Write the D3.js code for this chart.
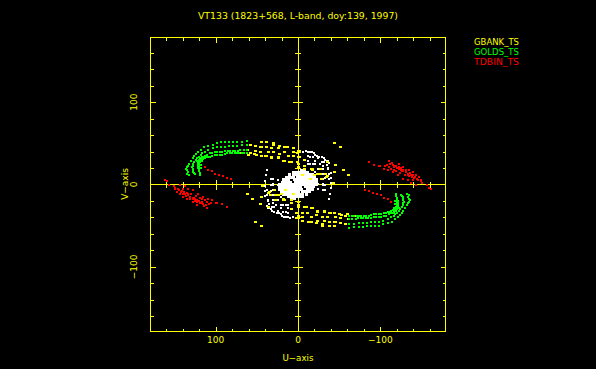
<!DOCTYPE html>
<html><head><meta charset="utf-8">
<script src="https://cdn.jsdelivr.net/npm/d3@7"></script>
<style>html,body{margin:0;padding:0;background:#000;overflow:hidden}svg{display:block}text{font-family:"DejaVu Sans",sans-serif;font-size:9px}</style>
</head><body><svg id="c" width="596" height="369"></svg>
<script>
const titleText = "VT133 (1823+568, L-band, doy:139, 1997)";
const xLabel = "U\u2212axis", yLabel = "V\u2212axis";
const legendNames = ["GBANK_TS","GOLDS_TS","TDBIN_TS"];
const legendColors = ["#ffff00","#00ff00","#ff0000"];
const majorTicks = [-100,0,100];
const minorTicks = [-160,-140,-120,-80,-60,-40,-20,20,40,60,80,120,140,160];
const greenPoints = [
[62,53],[68,52],[74,52],[79,52],[84,51],[88,51],[93,51],[98,50],[103,48],[109,47],[114,45],[118,42],[121,39],[126,35],[128,32],[132,25],[135,21],[135,17],[135,13],[132,11],[124,37],[130,28],[134,23],[136,19],[134,15],
[62,48],[68,48],[74,47],[79,47],[84,47],[88,46],[93,46],[98,45],[103,44],[109,42],[113,40],[116,38],[120,34],[124,30],[126,27],[128,23],[128,19],[127,15],[125,13],[118,36],[122,32],[127,25],[129,21],[128,17],[126,14],
[62,42],[70,42],[76,41],[82,41],[88,41],[95,40],[101,39],[107,38],[110,36],[115,34],[119,32],[121,27],[121,23],[120,17],[66,42],[73,41],[79,41],[85,41],[92,40],[98,40],[104,38],[113,35],[117,33],[120,30],[121,25],[121,20],
[62,38],[68,38],[74,38],[80,38],[86,38],[92,36],[98,36],[104,35],[109,33],[113,32],[116,29],[119,27],[120,23],[120,19],[120,16],
[65,38],[71,38],[77,38],[83,38],[89,37],[95,36],[101,36],[107,34],[111,33],[115,31],[118,28],[120,25],[120,21],[120,18],[122,29],[118,31],[118,20],[118,24],[119,14],[119,12]
];
const yellowPoints = [
[52,47],[44,51],[38,51],[30,50],[23,47],[16,45],[6,44],
[45,45],[38,46],[32,44],[24,44],[16,39],[6,39],[1,38],
[58,38],[53,37],[50,36],[44,35],[38,35],[32,32],[24,32],[16,29],[10,27],[1,27],
[58,48],[44,46],[30,48],[22,47],[13,45],[61,42],[52,41],[46,39],[36,40],[30,39],[22,37],[12,35],
[68,38],[60,36],[40,35],[32,33],[24,33],[18,29],
[-44,50],[-52,45],[-61,12],[-55,18],[-46,24],[-36,27],[-44,15],[-36,10],[-24,13],[-33,13],[-18,19],[-8,23],[-17,17],[-27,19],[-2,41],[-1,34],[-8,30],[0,21],[-6,11],[-15,7],[-29,7],
[0,41],[-2,34],[6,35],[8,27],[0,25],[-8,19],[-16,19],[-27,13],[-35,9],[-43,2],[-20,11]
];
const redPoints = [
[162,6],[159,4],[156,0],[151,-2],[149,-4],[143,0],[137,-2],[133,-6],[127,-7],[121,-12],[115,-15],[109,-17],[104,-19],[98,-23],[92,-24],[86,-27],
[149,-6],[145,-7],[141,-8],[137,-11],[133,-13],[128,-16],[125,-18],[119,-22],[115,-24],[110,-28],[143,-11],[139,-15],[135,-17],[128,-18],[122,-21],[119,-16],[113,-19],[105,-23],
[147,-9],[140,-6],[135,-10],[130,-12],[124,-14],[117,-18],[111,-21],[127,-21],[122,-25],[116,-21],
[146,-5],[142,-9],[138,-9],[134,-11],[131,-15],[126,-16],[123,-19],[120,-20],[117,-23],[114,-26],[112,-25],[108,-24],[100,-22],[136,-14],[131,-18],[125,-20],[140,-12],
[113,21],[109,18],[104,16],[101,13],[96,12],[91,10],[86,8],[81,7]
];
const whitePoints = [
[-10,41],[-12,39],[-17,39],[-21,36],[-24,34],[-29,33],[-33,30],[-36,28],
[-14,40],[-19,38],[-23,35],[-26,34],[-31,32],[-35,29],[-38,26],
[-40,14],[-40,8],[-40,2],[-40,-4],[-39,-11],[-38,-18],[-36,20],
[-33,8],[-33,0],[-33,-7],[-30,-1],
[-12,35],[-18,33],[-24,32],[-29,27],[-30,23],[-28,19],[-35,24],
[-6,39],[-12,29],[-21,25],[-24,19],[-15,25],[-21,15],
[-15,33],[-21,29],[-27,25],[-18,25],[-12,25],[-30,19],[-30,13],[-24,13],[-18,19],[-17,13],[-21,7],[-30,7],[-30,1],[-24,1],[-30,-7],[-24,-5],[-38,13],[-38,7],[-32,27],[-36,19]
];
const whiteCore = [
[-8,17],[-4,17],
[-12,15],[-9,15],[-6,15],[-3,15],[0,15],[3,15],[5,15],
[-18,12],[-15,12],[-12,12],[-9,12],[-6,12],[-3,12],[0,12],[3,12],[6,12],[10,12],
[-20,9],[-17,9],[-14,9],[-11,9],[-8,9],[-5,9],[-2,9],[1,9],[5,9],[8,9],[11,9],[14,9],
[-22,6],[-19,6],[-16,6],[-13,6],[-10,6],[-7,6],[-4,6],[-1,6],[1,6],[4,6],[12,6],[15,6],[17,6],
[-22,3],[-19,3],[-16,3],[-13,3],[-10,3],[-7,3],[-3,3],[0,3],[3,3],[9,3],[13,3],[16,3],[19,3],
[-23,0],[-20,0],[-17,0],[-14,0],[-11,0],[-8,0],[-5,0],[-2,0],[1,0],[4,0],[7,0],[10,0],[13,0],[16,0],[19,0],[21,0]
];

const svg = d3.select("#c");
svg.append("rect").attr("width",596).attr("height",369).attr("fill","#000");
const L=150.5,R=445.5,T=37.5,B=331.5;
const x = d3.scaleLinear().domain([179,-179]).range([L,R]);
const y = d3.scaleLinear().domain([-178.5,178.5]).range([B,T]);
const Y="#ffff00";

function ticks(gen,tx,ty,vals,outer,inner){
  const g=svg.append("g").attr("transform",`translate(${tx},${ty})`)
    .call(gen.tickValues(vals).tickSizeInner(inner).tickSizeOuter(0).tickFormat(""));
  g.selectAll(".domain").remove();
  g.selectAll("line").attr("stroke",Y).attr("stroke-width",1).attr("shape-rendering","crispEdges");
  g.selectAll("text").remove();
  if(outer){g.selectAll("line").each(function(){const l=d3.select(this);
    if(l.attr("y2")!==null&&+l.attr("y2")!==0){const v=+l.attr("y2");l.attr("y1",-v);}
    if(l.attr("x2")!==null&&+l.attr("x2")!==0){const v=+l.attr("x2");l.attr("x1",-v);}
  });}
}
[[minorTicks,3],[majorTicks,5]].forEach(([v,s])=>{
  const vv=v.filter(d=>d!==0);
  ticks(d3.axisBottom(x),0,T,vv,false,s);
  ticks(d3.axisTop(x),0,B,vv,false,s);
  ticks(d3.axisRight(y),L,0,vv,false,s);
  ticks(d3.axisLeft(y),R,0,vv,false,s);
  ticks(d3.axisBottom(x),0,y(0),vv,true,s);
  ticks(d3.axisRight(y),x(0),0,vv,true,s);
});
const line=(a,b,c,d)=>svg.append("line").attr("x1",a).attr("y1",b).attr("x2",c).attr("y2",d).attr("stroke",Y).attr("shape-rendering","crispEdges");
line(L,y(0),R,y(0)); line(x(0),T,x(0),B);
svg.append("rect").attr("x",L).attr("y",T).attr("width",R-L).attr("height",B-T).attr("fill","none").attr("stroke",Y).attr("shape-rendering","crispEdges");

const withConj = a => a.concat(a.map(d=>[-d[0],-d[1]]));
[[whitePoints,"#ffffff",2,2],[whiteCore,"#ffffff",3,3],[yellowPoints,"#ffff00",3,2],[greenPoints,"#00ff00",2,2],[redPoints,"#ff0000",2,2]].forEach(([pts,col,w,h])=>{
  svg.append("g").selectAll("rect").data(withConj(pts)).join("rect")
    .attr("x",d=>Math.round(x(d[0])-w/2)).attr("y",d=>Math.round(y(d[1])-h/2))
    .attr("width",w).attr("height",h).attr("fill",col).attr("shape-rendering","crispEdges");
});

const txt=(s,a,b,col,anchor,len)=>{const t=svg.append("text").attr("x",a).attr("y",b).attr("fill",col).attr("text-anchor",anchor).text(s);
  if(len)t.attr("textLength",len).attr("lengthAdjust","spacingAndGlyphs");return t;};
txt(titleText,298,19,Y,"middle",200);
legendNames.forEach((n,i)=>txt(n,474,45+i*10,legendColors[i],"start",45));
majorTicks.forEach(v=>{
  const s=v===0?"0":(v<0?"\u2212"+(-v):""+v);
  txt(s,x(v),343,Y,"middle");
  svg.append("text").attr("transform",`translate(137,${y(v)}) rotate(-90)`).attr("text-anchor","middle").attr("fill",Y).text(s);
});
txt(xLabel,298,361,Y,"middle",31);
svg.append("text").attr("transform",`translate(128,184) rotate(-90)`).attr("text-anchor","middle").attr("fill",Y).text(yLabel);
</script></body></html>
